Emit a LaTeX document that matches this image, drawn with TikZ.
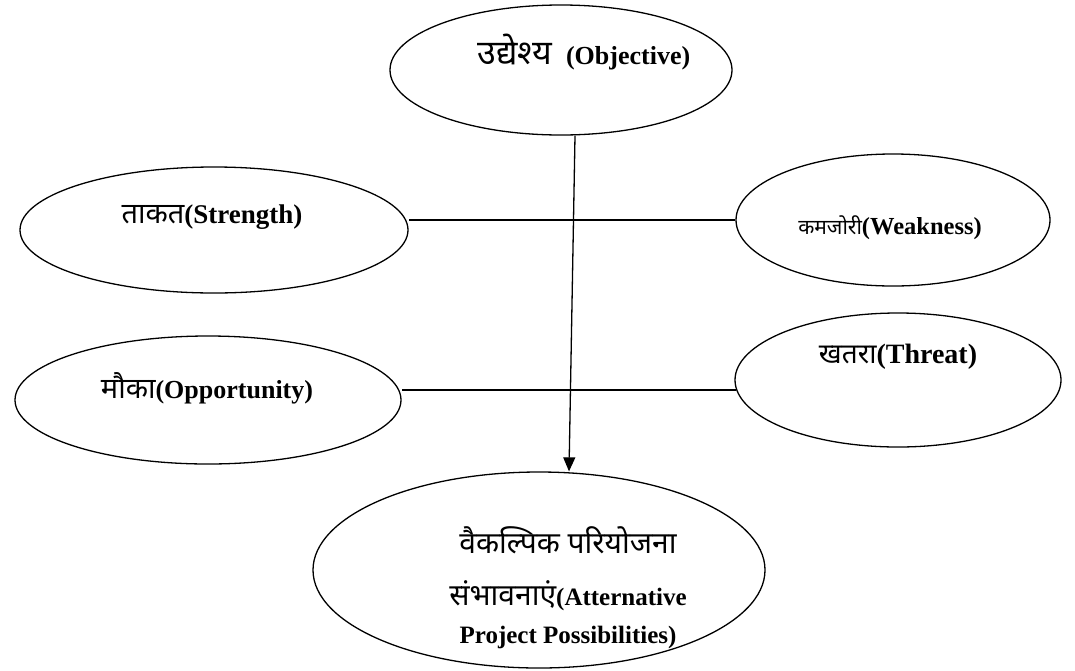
\documentclass[tikz,border=0pt]{standalone}
\usepackage{fontspec}
\setmainfont{Liberation Serif}
\newfontfamily\hindi[Script=Devanagari]{Noto Sans}
\newcommand{\hin}[2][29]{{\hindi\mdseries\fontsize{#1}{36}\selectfont #2}}
\usetikzlibrary{shapes.geometric,arrows.meta,calc}
\begin{document}
\begin{tikzpicture}[x=1pt,y=-1pt,
  oval/.style={draw,ellipse,line width=1.3pt,inner sep=0pt},
  lab/.style={font=\fontsize{26}{30}\selectfont\bfseries,align=center,inner sep=0pt},
  conn/.style={line width=1.3pt}]
\useasboundingbox (0,0) rectangle (1075,670);
\node[oval,minimum width=342pt,minimum height=130pt] (obj) at (561,70) {};
\node[oval,minimum width=388pt,minimum height=126pt] (str) at (214,230) {};
\node[oval,minimum width=314pt,minimum height=132pt] (weak) at (893,220) {};
\node[oval,minimum width=386pt,minimum height=128pt] (opp) at (208,400) {};
\node[oval,minimum width=326pt,minimum height=134pt] (thr) at (898,380) {};
\node[oval,minimum width=452pt,minimum height=196pt] (alt) at (539,570) {};
\node[lab] (objl) at (584,52) {\hin[34]{उद्येश्य}\hspace{14pt}(Objective)};
\node[lab,font=\fontsize{27}{30}\selectfont\bfseries] (strl) at (212,217) {\hin{ताकत}(Strength)};
\node[lab,font=\fontsize{24.5}{30}\selectfont\bfseries] (weakl) at (890,228) {\hin[21]{कमजोरी}(Weakness)};
\node[lab] (oppl) at (207,388) {\hin{मौका}(Opportunity)};
\node[lab,font=\fontsize{28}{30}\selectfont\bfseries] (thrl) at (898,357) {\hin[28]{खतरा}(Threat)};
\node[lab,font=\fontsize{25}{38}\selectfont\bfseries] (altl) at (568,588) {\hin[30]{वैकल्पिक परियोजना}\\[14pt]\hin[30]{संभावनाएं}(Atternative\\Project Possibilities)};
\coordinate (tw) at ($(thr.west)+(2,10)$);
\draw[conn] (weak.west) -- (weak.west -| str.east);
\draw[conn] (tw) -- (tw -| opp.east);
\draw[conn,-{Triangle[length=14pt,width=12pt]}] ($(obj.south)+(14,0)$) -- ($(alt.north)+(30,0)$);
\end{tikzpicture}
\end{document}
